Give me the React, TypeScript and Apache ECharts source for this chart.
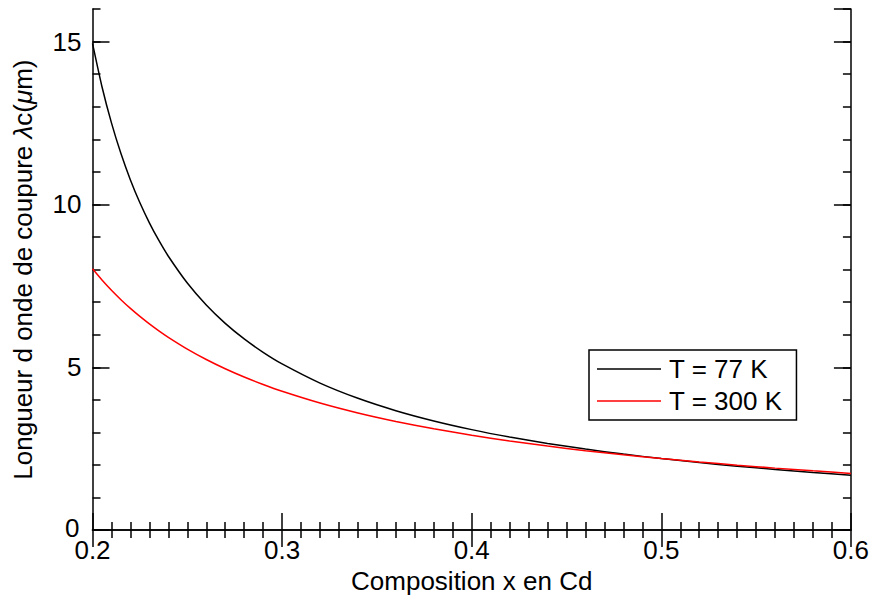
import React, { useEffect, useRef } from "react";
import * as echarts from "echarts";

// Composition x (Cd fraction)
const compositionX = [
  0.2, 0.205, 0.21, 0.215, 0.22, 0.225, 0.23, 0.235, 0.24, 0.25, 0.26, 0.27, 0.28, 0.29, 0.3,
  0.32, 0.34, 0.36, 0.38, 0.4, 0.42, 0.44, 0.46, 0.48, 0.5,
  0.52, 0.54, 0.56, 0.58, 0.6,
];

// Cut-off wavelength (µm) at 77 K
const lambda77K = [
  14.945, 13.614, 12.503, 11.561, 10.752, 10.05, 9.4355, 8.8922, 8.4087, 7.5853, 6.9104, 6.3467, 5.8688, 5.4584, 5.102,
  4.5132, 4.0464, 3.6667, 3.3516, 3.0854, 2.8575, 2.6598, 2.4866, 2.3333, 2.1966,
  2.0739, 1.9629, 1.862, 1.7698, 1.6851,
];

// Cut-off wavelength (µm) at 300 K
const lambda300K = [
  8.023, 7.6793, 7.3645, 7.0752, 6.8081, 6.561, 6.3316, 6.118, 5.9187, 5.5574, 5.2386, 4.9549, 4.7009, 4.472, 4.2646,
  3.9031, 3.5981, 3.3371, 3.1108, 2.9125, 2.7371, 2.5806, 2.4398, 2.3125, 2.1966,
  2.0906, 1.993, 1.9029, 1.8193, 1.7416,
];

const seriesNames = ["T = 77 K", "T = 300 K"];
const seriesColors = ["#000000", "#ff0000"];

const xAxisTitle = "Composition x en Cd";
const yAxisTitle = "Longueur d onde de coupure {i|λ}c({i|μ}m)";

const FONT = "'Liberation Sans', Arial, Helvetica, sans-serif";

export default function App() {
  const ref = useRef<HTMLDivElement>(null);

  useEffect(() => {
    if (!ref.current) return;
    const chart = echarts.init(ref.current, undefined, { renderer: "svg" });

    const axisLine = { show: true, lineStyle: { color: "#000", width: 1.5 } };
    const tickStyle = { color: "#000", width: 1.5 };
    const labelStyle = { fontSize: 26, color: "#000", fontFamily: FONT };

    const option: echarts.EChartsOption = {
      animation: false,
      backgroundColor: "#fff",
      textStyle: { fontFamily: FONT },
      grid: { left: 92.5, right: 20, top: 9, bottom: 58, containLabel: false },
      legend: {
        orient: "vertical",
        left: 589,
        top: 350,
        icon: "rect",
        itemWidth: 64,
        itemHeight: 1.5,
        itemGap: 6,
        padding: [6, 14, 6, 8],
        borderColor: "#000",
        borderWidth: 1.5,
        borderRadius: 0,
        backgroundColor: "#fff",
        textStyle: { ...labelStyle, padding: [0, 0, 0, 3] },
        data: seriesNames,
      },
      xAxis: [
        {
          type: "value",
          position: "bottom",
          min: 0.2,
          max: 0.6,
          interval: 0.1,
          axisLine,
          axisTick: { show: true, inside: true, length: 17, lineStyle: tickStyle },
          minorTick: { show: true, splitNumber: 10, length: 8, lineStyle: tickStyle },
          axisLabel: { ...labelStyle, margin: 10, lineHeight: 20, formatter: (v: number) => v.toFixed(1) },
          splitLine: { show: false },
          name: xAxisTitle,
          nameLocation: "middle",
          nameGap: 31,
          nameTextStyle: { ...labelStyle, lineHeight: 24 },
        },
        {
          type: "value",
          position: "top",
          min: 0.2,
          max: 0.6,
          interval: 0.1,
          axisLine,
          axisTick: { show: true, inside: true, length: 17, lineStyle: tickStyle },
          minorTick: { show: true, splitNumber: 10, length: 8, lineStyle: tickStyle },
          axisLabel: { show: false },
          splitLine: { show: false },
        },
      ],
      yAxis: [
        {
          type: "value",
          position: "left",
          min: 0,
          max: 16,
          interval: 5,
          axisLine,
          axisTick: { show: true, inside: true, length: 17, lineStyle: tickStyle },
          axisLabel: {
            ...labelStyle,
            margin: 11,
            lineHeight: 16,
            showMaxLabel: false,
            formatter: (v: number) => (v === 0 ? "{z|0}" : String(v)),
            rich: {
              z: { fontSize: 26, fontFamily: FONT, color: "#000", lineHeight: 16, padding: [0, 2, 4, 0] },
            },
          },
          splitLine: { show: false },
          name: yAxisTitle,
          nameLocation: "middle",
          nameGap: 57,
          nameTextStyle: {
            ...labelStyle,
            rich: {
              i: { fontSize: 26, fontStyle: "italic", fontFamily: FONT, color: "#000" },
            },
          },
        },
        {
          type: "value",
          position: "left",
          min: 0,
          max: 16,
          interval: 1,
          axisLine: { show: false },
          axisTick: { show: true, inside: true, length: 8, lineStyle: tickStyle },
          axisLabel: { show: false },
          splitLine: { show: false },
        },
        {
          type: "value",
          position: "right",
          min: 0,
          max: 16,
          interval: 5,
          axisLine,
          axisTick: { show: true, inside: true, length: 17, lineStyle: tickStyle },
          axisLabel: { show: false },
          splitLine: { show: false },
        },
        {
          type: "value",
          position: "right",
          min: 0,
          max: 16,
          interval: 1,
          axisLine: { show: false },
          axisTick: { show: true, inside: true, length: 8, lineStyle: tickStyle },
          axisLabel: { show: false },
          splitLine: { show: false },
        },
      ],
      series: [
        {
          type: "line",
          name: seriesNames[0],
          xAxisIndex: 0,
          yAxisIndex: 0,
          data: compositionX.map((x, i) => [x, lambda77K[i]]),
          symbol: "none",
          smooth: 0.2,
          lineStyle: { color: seriesColors[0], width: 1.5 },
          itemStyle: { color: seriesColors[0] },
        },
        {
          type: "line",
          name: seriesNames[1],
          xAxisIndex: 0,
          yAxisIndex: 0,
          data: compositionX.map((x, i) => [x, lambda300K[i]]),
          symbol: "none",
          smooth: 0.2,
          lineStyle: { color: seriesColors[1], width: 1.5 },
          itemStyle: { color: seriesColors[1] },
        },
      ],
    };

    chart.setOption(option);
    return () => chart.dispose();
  }, []);

  return (
    <div
      ref={ref}
      style={{ position: "fixed", left: 0, top: 0, width: 872, height: 599 }}
    />
  );
}
